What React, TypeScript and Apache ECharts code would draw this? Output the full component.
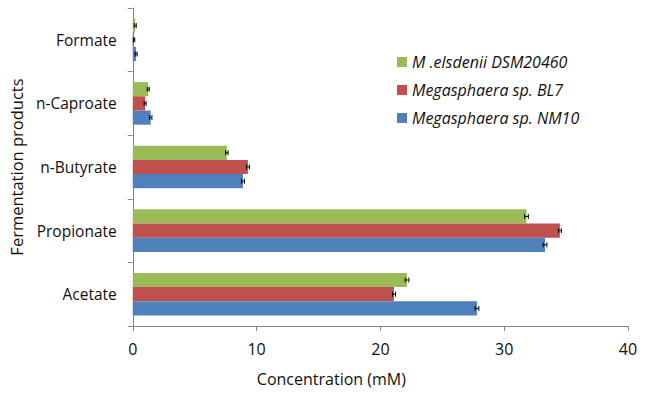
import React, { useEffect, useRef } from "react";
import * as echarts from "echarts";

const categories = ["Acetate", "Propionate", "n-Butyrate", "n-Caproate", "Formate"];
const seriesNames = ["M .elsdenii DSM20460", "Megasphaera sp. BL7", "Megasphaera sp. NM10"];
const dsm = [22.15, 31.8, 7.6, 1.25, 0.2];
const bl7 = [21.1, 34.5, 9.3, 1.0, 0.1];
const nm10 = [27.8, 33.3, 8.9, 1.45, 0.27];
const errDsm = [0.15, 0.15, 0.1, 0.08, 0.08];
const errBl7 = [0.12, 0.12, 0.12, 0.08, 0.06];
const errNm10 = [0.15, 0.15, 0.12, 0.1, 0.08];
const colors = ["#9BBB59", "#C0504D", "#4F81BD"];
const xTicks = { min: 0, max: 40, interval: 10 };

const FONT = "Open Sans";
const CAT_GAP = 0.33;

export default function App() {
  const ref = useRef<HTMLDivElement>(null);
  useEffect(() => {
    const chart = echarts.init(ref.current!, null, { renderer: "svg" });
    const values = [dsm, bl7, nm10];
    const errs = [errDsm, errBl7, errNm10];
    const barSeries = seriesNames.map((name, i) => ({
      name,
      type: "bar",
      data: values[i],
      itemStyle: { color: colors[i] },
      barGap: "0%",
      barCategoryGap: CAT_GAP * 100 + "%",
    }));
    const errSeries = seriesNames.map((name, i) => ({
      type: "custom",
      name: name + " err",
      data: values[i].map((v, j) => [j, v, errs[i][j]]),
      encode: { y: 0, x: 1 },
      z: 5,
      renderItem: (params: any, api: any) => {
        const cat = api.value(0);
        const v = api.value(1);
        const e = api.value(2);
        const band = api.size([0, 1])[1];
        const bw = (band * (1 - CAT_GAP)) / 3;
        const c = api.coord([v, cat]);
        const y = c[1] + (i - 1) * bw;
        const lo = api.coord([v - e, cat])[0];
        const hi = api.coord([v + e, cat])[0];
        const cap = 2.5;
        const style = { stroke: "#000", lineWidth: 1 };
        return {
          type: "group",
          children: [
            { type: "line", shape: { x1: lo, y1: y, x2: hi, y2: y }, style },
            { type: "line", shape: { x1: lo, y1: y - cap, x2: lo, y2: y + cap }, style },
            { type: "line", shape: { x1: hi, y1: y - cap, x2: hi, y2: y + cap }, style },
          ],
        };
      },
    }));
    chart.setOption({
      animation: false,
      textStyle: { fontFamily: FONT },
      grid: { left: 132, right: 19, top: 8, bottom: 68 },
      legend: {
        data: seriesNames,
        orient: "vertical",
        left: 392,
        top: 49,
        itemWidth: 10,
        itemHeight: 10,
        itemGap: 12,
        icon: "rect",
        textStyle: { fontFamily: FONT, fontSize: 16, fontStyle: "italic", color: "#111" },
      },
      xAxis: {
        type: "value",
        min: xTicks.min,
        max: xTicks.max,
        interval: xTicks.interval,
        name: "Concentration (mM)",
        nameLocation: "middle",
        nameGap: 45,
        nameTextStyle: { fontFamily: FONT, fontSize: 16, color: "#111", padding: [0, 98, 0, 0] },
        splitLine: { show: false },
        axisLine: { show: true, lineStyle: { color: "#868686" } },
        axisTick: { show: true, length: 5, lineStyle: { color: "#868686" } },
        axisLabel: { fontFamily: FONT, fontSize: 16, color: "#111", margin: 15 },
      },
      yAxis: {
        type: "category",
        data: categories,
        name: "Fermentation products",
        nameLocation: "middle",
        nameGap: 101,
        nameTextStyle: { fontFamily: FONT, fontSize: 16.5, color: "#111" },
        axisLine: { show: true, lineStyle: { color: "#868686" } },
        axisTick: { show: true, length: 5, lineStyle: { color: "#868686" } },
        axisLabel: { fontFamily: FONT, fontSize: 15.5, color: "#111", margin: 16 },
      },
      series: [...barSeries, ...errSeries],
    });
    return () => chart.dispose();
  }, []);
  return <div ref={ref} style={{ width: 647, height: 394, position: "absolute", left: 0, top: 0 }} />;
}
